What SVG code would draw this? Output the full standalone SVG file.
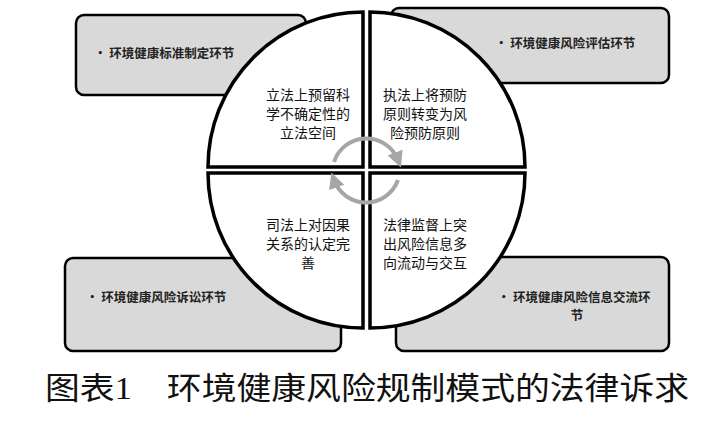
<svg xmlns="http://www.w3.org/2000/svg" width="702" height="428" viewBox="0 0 702 428">
<style>
.box{fill:#d9d9d9;stroke:#000;stroke-width:2.5}
.q{fill:#fff;stroke:#000;stroke-width:3.5}
.bt{font-family:"Noto Sans CJK SC",sans-serif;font-size:12.5px;font-weight:bold;fill:#222}
.qt{font-family:"Noto Sans CJK SC",sans-serif;font-size:14px;fill:#111;text-anchor:middle}
.cap{font-family:"Liberation Serif","Noto Sans CJK SC",serif;font-size:31px;fill:#111}
.cy{fill:none;stroke:#a6a6a6;stroke-width:4}
</style>
<defs><marker id="ah" markerWidth="4" markerHeight="4" refX="2" refY="2" orient="auto"><path d="M0,0 L4,2 L0,4 z" fill="#a6a6a6"/></marker></defs>
<g id="box-tl"><rect class="box" x="76" y="15" width="230" height="80" rx="8"/><text class="bt" x="94" y="58">• 环境健康标准制定环节</text></g>
<g id="box-tr"><rect class="box" x="391" y="8" width="278" height="75" rx="8"/><text class="bt" x="495" y="48">• 环境健康风险评估环节</text></g>
<g id="box-bl"><rect class="box" x="65" y="258" width="276" height="93" rx="8"/><text class="bt" x="86" y="302">• 环境健康风险诉讼环节</text></g>
<g id="box-br"><rect class="box" x="396" y="257" width="273" height="94" rx="8"/><text class="bt" x="574" y="302" text-anchor="middle">• 环境健康风险信息交流环</text><text class="bt" x="577" y="320" text-anchor="middle">节</text></g>
<g id="q-tl"><path class="q" d="M363,167 L208,167 A155,155 0 0 1 363,12 Z"/><text class="qt" x="308" y="100">立法上预留科</text><text class="qt" x="308" y="119">学不确定性的</text><text class="qt" x="308" y="138">立法空间</text></g>
<g id="q-tr"><path class="q" d="M370,167 L370,12 A155,155 0 0 1 525,167 Z"/><text class="qt" x="425" y="100">执法上将预防</text><text class="qt" x="425" y="119">原则转变为风</text><text class="qt" x="425" y="138">险预防原则</text></g>
<g id="q-bl"><path class="q" d="M363,173 L363,328 A155,155 0 0 1 208,173 Z"/><text class="qt" x="308" y="230">司法上对因果</text><text class="qt" x="308" y="249">关系的认定完</text><text class="qt" x="308" y="268">善</text></g>
<g id="q-br"><path class="q" d="M370,173 L525,173 A155,155 0 0 1 370,328 Z"/><text class="qt" x="425" y="230">法律监督上突</text><text class="qt" x="425" y="249">出风险信息多</text><text class="qt" x="425" y="268">向流动与交互</text></g>
<g id="connectors">
<path class="cy" d="M334,162 A34,34 0 0 1 398,160" marker-end="url(#ah)"/>
<path class="cy" d="M398,180 A34,34 0 0 1 334,180" marker-end="url(#ah)"/>
</g>
<text class="cap" x="45" y="399" textLength="644" lengthAdjust="spacingAndGlyphs">图表1　环境健康风险规制模式的法律诉求</text>
</svg>
